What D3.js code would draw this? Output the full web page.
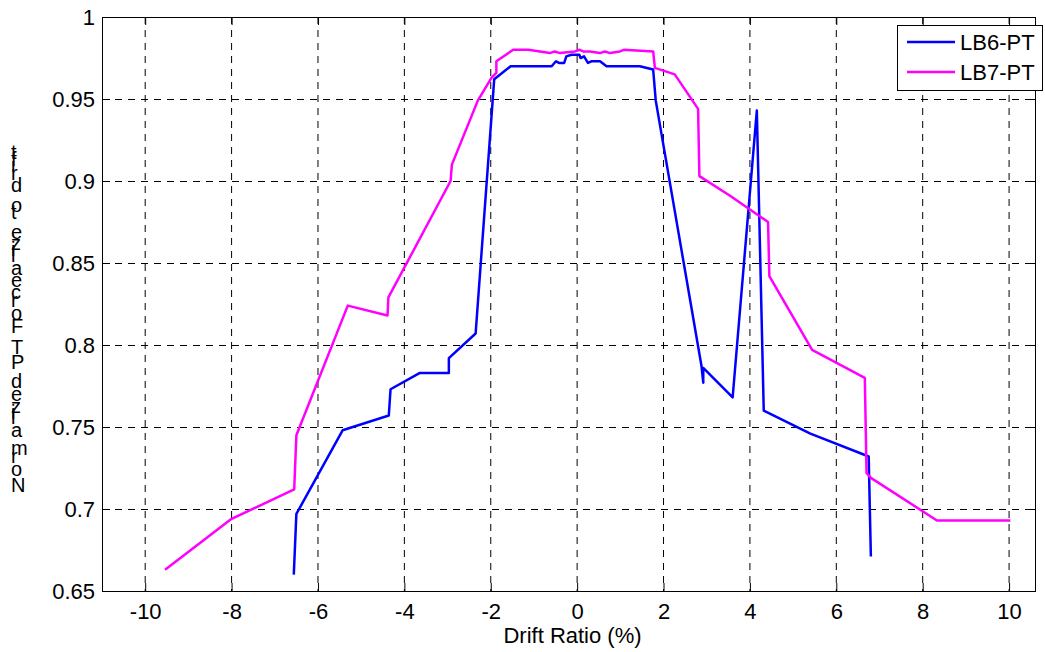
<!DOCTYPE html>
<html>
<head>
<meta charset="utf-8">
<script src="https://cdn.jsdelivr.net/npm/d3@7"></script>
<style>
  body { margin: 0; background: #fff; }
  text { font-family: Arial, "Liberation Sans", sans-serif; fill: #000; }
</style>
</head>
<body>
<div id="chart"></div>
<script>
  // data
  var lb6Drift = [-6.56, -6.5, -5.43, -4.36, -4.32, -3.64, -2.97, -2.97, -2.35, -1.92, -1.54, -0.59, -0.49, -0.42, -0.3, -0.25, -0.13, 0.05, 0.08, 0.16, 0.25, 0.33, 0.53, 0.68, 1.45, 1.76, 1.82, 2.88, 2.92, 2.92, 3.6, 4.16, 4.32, 5.4, 6.75, 6.8];
  var lb6PT    = [0.660, 0.697, 0.748, 0.757, 0.773, 0.783, 0.783, 0.792, 0.807, 0.962, 0.970, 0.970, 0.973, 0.972, 0.972, 0.976, 0.977, 0.977, 0.975, 0.976, 0.972, 0.973, 0.973, 0.970, 0.970, 0.968, 0.949, 0.787, 0.777, 0.786, 0.768, 0.943, 0.760, 0.746, 0.732, 0.671];

  var lb7Drift = [-9.54, -8.0, -6.55, -6.5, -5.31, -4.39, -4.37, -2.93, -2.9, -2.3, -1.98, -1.87, -1.87, -1.48, -1.13, -0.63, -0.52, -0.4, -0.05, 0.06, 0.14, 0.29, 0.53, 0.64, 0.76, 0.99, 1.08, 1.76, 1.8, 2.26, 2.8, 2.83, 3.54, 4.42, 4.45, 5.44, 6.66, 6.7, 6.8, 8.33, 10.03];
  var lb7PT    = [0.663, 0.694, 0.712, 0.745, 0.824, 0.818, 0.829, 0.900, 0.910, 0.949, 0.963, 0.966, 0.973, 0.980, 0.980, 0.978, 0.979, 0.978, 0.979, 0.980, 0.979, 0.979, 0.978, 0.979, 0.978, 0.979, 0.980, 0.979, 0.969, 0.965, 0.944, 0.903, 0.891, 0.875, 0.842, 0.797, 0.780, 0.722, 0.719, 0.693, 0.693];

  var xTicks = [-10, -8, -6, -4, -2, 0, 2, 4, 6, 8, 10];
  var yTicks = [0.65, 0.7, 0.75, 0.8, 0.85, 0.9, 0.95, 1];
  var seriesNames = ["LB6-PT", "LB7-PT"];
  var seriesColors = ["#0000ff", "#ff00ff"];
  var xLabel = "Drift Ratio (%)";
  var yLabel = "Normalized PT Forcealize to drift";

  var width = 1045, height = 652;
  var box = {left: 102, right: 1035, top: 17, bottom: 591};
  var fontSize = "22px";

  var x = d3.scaleLinear().domain([-11, 10.6]).range([box.left, box.right]);
  var y = d3.scaleLinear().domain([0.65, 1]).range([box.bottom, box.top]);

  var svg = d3.select("#chart").append("svg")
      .attr("width", width)
      .attr("height", height);

  // dashed grid
  var grid = svg.append("g").attr("class", "grid");
  grid.selectAll(".vgrid").data(xTicks).enter().append("line")
      .attr("x1", function(d) { return x(d); })
      .attr("x2", function(d) { return x(d); })
      .attr("y1", box.top).attr("y2", box.bottom)
      .attr("stroke", "#000").attr("stroke-width", 1)
      .attr("stroke-dasharray", "7,6");
  grid.selectAll(".hgrid").data(yTicks.slice(1, -1)).enter().append("line")
      .attr("y1", function(d) { return Math.round(y(d)) + 0.5; })
      .attr("y2", function(d) { return Math.round(y(d)) + 0.5; })
      .attr("x1", box.left).attr("x2", box.right)
      .attr("stroke", "#000").attr("stroke-width", 1)
      .attr("stroke-dasharray", "7,6");

  // axes, ticks pointing inward like matlab
  svg.append("g")
      .attr("transform", "translate(0," + box.bottom + ")")
      .call(d3.axisBottom(x).tickValues(xTicks).tickSizeInner(-8).tickSizeOuter(0).tickPadding(12)
        .tickFormat(function(d) { return d; }));
  svg.append("g")
      .attr("transform", "translate(0," + box.top + ")")
      .call(d3.axisTop(x).tickValues(xTicks).tickSizeInner(-8).tickSizeOuter(0).tickFormat(""));
  svg.append("g")
      .attr("transform", "translate(" + box.left + ",0)")
      .call(d3.axisLeft(y).tickValues(yTicks).tickSizeInner(-8).tickSizeOuter(0).tickPadding(7)
        .tickFormat(function(d) { return +d.toFixed(2); }));
  svg.append("g")
      .attr("transform", "translate(" + box.right + ",0)")
      .call(d3.axisRight(y).tickValues(yTicks).tickSizeInner(-8).tickSizeOuter(0).tickFormat(""));

  svg.selectAll(".domain").remove();
  svg.selectAll(".tick line").attr("stroke", "#000");
  svg.selectAll(".tick text")
      .style("font-family", "Arial, 'Liberation Sans', sans-serif")
      .style("font-size", fontSize)
      .attr("fill", "#000");

  // curves
  var line = d3.line()
      .x(function(d) { return x(d[0]); })
      .y(function(d) { return y(d[1]); });

  var series = [d3.zip(lb6Drift, lb6PT), d3.zip(lb7Drift, lb7PT)];
  svg.append("g").attr("class", "curves")
      .selectAll("path").data(series).enter().append("path")
      .attr("d", line)
      .attr("fill", "none")
      .attr("stroke", function(d, i) { return seriesColors[i]; })
      .attr("stroke-width", 2.5)
      .attr("stroke-linejoin", "round");

  // box round the plot
  svg.append("rect")
      .attr("x", box.left + 0.5).attr("y", box.top + 0.5)
      .attr("width", box.right - box.left).attr("height", box.bottom - box.top)
      .attr("fill", "none").attr("stroke", "#000").attr("stroke-width", 1);

  // legend
  var legend = svg.append("g").attr("class", "legend");
  legend.append("rect")
      .attr("x", 897.5).attr("y", 25.5).attr("width", 145).attr("height", 65)
      .attr("fill", "#fff").attr("stroke", "#000").attr("stroke-width", 1);
  seriesNames.forEach(function(name, i) {
    var ly = 42 + i * 30;
    legend.append("line")
        .attr("x1", 907).attr("x2", 955).attr("y1", ly).attr("y2", ly)
        .attr("stroke", seriesColors[i]).attr("stroke-width", 2.5);
    legend.append("text")
        .attr("x", 960).attr("y", ly + 8)
        .style("font-size", fontSize)
        .text(name);
  });

  // x label
  svg.append("text")
      .attr("x", (box.left + box.right) / 2 + 4).attr("y", 643)
      .attr("text-anchor", "middle")
      .style("font-size", fontSize)
      .text(xLabel);

  // y label: rotated baseline, but every glyph kept upright (as in the picture)
  svg.append("text")
      .attr("class", "ylabel")
      .attr("transform", "translate(11,492) rotate(-90)")
      .attr("rotate", 90)
      .style("font-size", "20px")
      .style("letter-spacing", "1.5px")
      .text(yLabel);
</script>
</body>
</html>
